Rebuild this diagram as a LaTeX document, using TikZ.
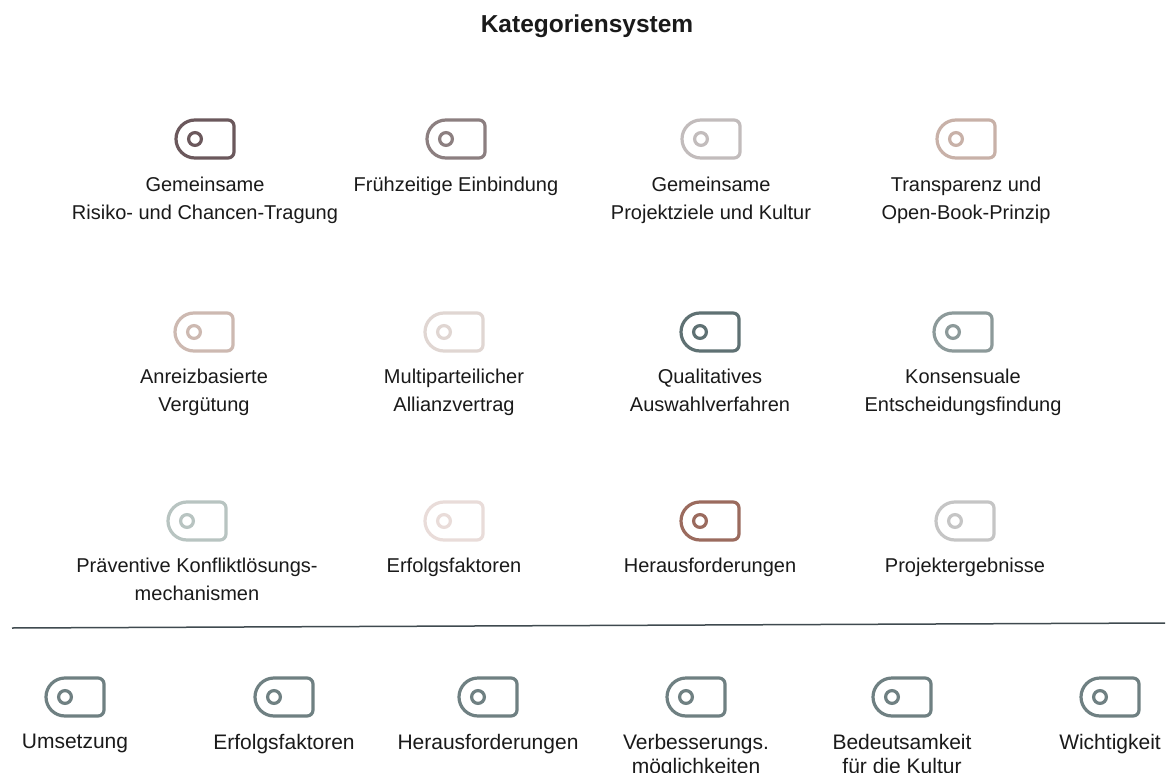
\documentclass[tikz,border=0pt]{standalone}
\usepackage{fontspec}
\setmainfont{Liberation Sans}
\usetikzlibrary{positioning}
\definecolor{txt}{HTML}{1A1A1A}
\definecolor{risk}{HTML}{6B585C}
\definecolor{early}{HTML}{8C7F80}
\definecolor{goals}{HTML}{C2BCBC}
\definecolor{transp}{HTML}{C8B1A8}
\definecolor{incent}{HTML}{CDB9B1}
\definecolor{multi}{HTML}{E0D6D2}
\definecolor{quali}{HTML}{5F7173}
\definecolor{konsens}{HTML}{8D9A9A}
\definecolor{konflikt}{HTML}{B8C4C1}
\definecolor{erfolg}{HTML}{E9DCD9}
\definecolor{heraus}{HTML}{9B6B5E}
\definecolor{ergebnis}{HTML}{C5C5C5}
\definecolor{slate}{HTML}{6F8082}
\definecolor{rule}{HTML}{3F4A4F}
\tikzset{
    tagicon/.pic={
        \draw[line width=3.2pt] (-10,19) -- (23,19) arc (90:0:6) -- (29,-13) arc (0:-90:6) -- (-10,-19) arc (270:90:19) -- cycle;
        \draw[line width=3.2pt] (-10,0) circle (6.4);
    },
    cat/.style={font=\fontsize{20}{28}\selectfont, text=txt, align=center, anchor=north, inner sep=0pt},
    sub/.style={font=\fontsize{21}{24}\selectfont, text=txt, align=center, anchor=north, inner sep=0pt},
    divider/.style={line width=1.5pt, draw=rule}
}

\begin{document}
\begin{tikzpicture}[x=1pt,y=-1pt]
\fill[white] (0,0) rectangle (1167,773);
\useasboundingbox (0,0) rectangle (1167,773);

\node[font=\fontsize{24.5}{28}\selectfont\bfseries, text=txt] (title) at (587,26) {Kategoriensystem};

% first row
\coordinate (i11) at (205,139);
\coordinate (i12) at (456,139);
\coordinate (i13) at (711,139);
\coordinate (i14) at (966,139);
\pic[risk] at (i11) {tagicon};
\pic[early] at (i12) {tagicon};
\pic[goals] at (i13) {tagicon};
\pic[transp] at (i14) {tagicon};
\node[cat, below=38pt of i11] (t11) {Gemeinsame\\Risiko- und Chancen-Tragung};
\node[cat, below=38pt of i12] (t12) {Frühzeitige Einbindung};
\node[cat, below=38pt of i13] (t13) {Gemeinsame\\Projektziele und Kultur};
\node[cat, below=38pt of i14] (t14) {Transparenz und\\Open-Book-Prinzip};

% second row
\coordinate (i21) at (204,332);
\coordinate (i22) at (454,332);
\coordinate (i23) at (710,332);
\coordinate (i24) at (963,332);
\pic[incent] at (i21) {tagicon};
\pic[multi] at (i22) {tagicon};
\pic[quali] at (i23) {tagicon};
\pic[konsens] at (i24) {tagicon};
\node[cat, below=37pt of i21] (t21) {Anreizbasierte\\Vergütung};
\node[cat, below=37pt of i22] (t22) {Multiparteilicher\\Allianzvertrag};
\node[cat, below=37pt of i23] (t23) {Qualitatives\\Auswahlverfahren};
\node[cat, below=37pt of i24] (t24) {Konsensuale\\Entscheidungsfindung};

% third row
\coordinate (i31) at (197,521);
\coordinate (i32) at (454,521);
\coordinate (i33) at (710,521);
\coordinate (i34) at (965,521);
\pic[konflikt] at (i31) {tagicon};
\pic[erfolg] at (i32) {tagicon};
\pic[heraus] at (i33) {tagicon};
\pic[ergebnis] at (i34) {tagicon};
\node[cat, below=37pt of i31] (t31) {Präventive Konfliktlösungs-\\mechanismen};
\node[cat, below=37pt of i32] (t32) {Erfolgsfaktoren};
\node[cat, below=37pt of i33] (t33) {Herausforderungen};
\node[cat, below=37pt of i34] (t34) {Projektergebnisse};

\coordinate (d1) at (12,628);
\coordinate (d2) at (1165,623);
\draw[divider] (d1) -- (d2);

% bottom row
\coordinate (b1) at (75,697);
\coordinate (b2) at (284,697);
\coordinate (b3) at (488,697);
\coordinate (b4) at (696,697);
\coordinate (b5) at (902,697);
\coordinate (b6) at (1110,697);
\pic[slate] at (b1) {tagicon};
\pic[slate] at (b2) {tagicon};
\pic[slate] at (b3) {tagicon};
\pic[slate] at (b4) {tagicon};
\pic[slate] at (b5) {tagicon};
\pic[slate] at (b6) {tagicon};
\node[sub, below=37pt of b1] (s1) {Umsetzung};
\node[sub, below=37pt of b2] (s2) {Erfolgsfaktoren};
\node[sub, below=37pt of b3] (s3) {Herausforderungen};
\node[sub, below=37pt of b4] (s4) {Verbesserungs.\\möglichkeiten};
\node[sub, below=37pt of b5] (s5) {Bedeutsamkeit\\für die Kultur};
\node[sub, below=37pt of b6] (s6) {Wichtigkeit};
\end{tikzpicture}
\end{document}
